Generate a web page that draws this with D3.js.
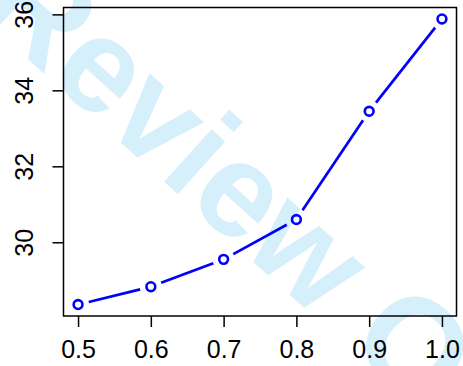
<!DOCTYPE html>
<html>
<head>
<meta charset="utf-8">
<script src="https://cdn.jsdelivr.net/npm/d3@7"></script>
<style>
  html, body { margin: 0; padding: 0; background: #fff; }
  svg { display: block; }
</style>
</head>
<body>
<div id="chart"></div>
<script>
// Data
const xValues = [0.5, 0.6, 0.7, 0.8, 0.9, 1.0];
const yValues = [28.36, 28.83, 29.55, 30.60, 33.45, 35.88];
const xTicks = [0.5, 0.6, 0.7, 0.8, 0.9, 1.0];
const yTicks = [30, 32, 34, 36];
const watermarkText = "Review Only";

const W = 463, H = 366;
const plot = { left: 63.5, right: 456.5, top: 7.5, bottom: 316 };

// R-style axis extents: data range padded by 4% each side
function padded(vals) {
  const [lo, hi] = d3.extent(vals);
  const p = (hi - lo) * 0.04;
  return [lo - p, hi + p];
}

const x = d3.scaleLinear().domain(padded(xValues)).range([plot.left, plot.right]);
const y = d3.scaleLinear().domain(padded(yValues)).range([plot.bottom, plot.top]);

const svg = d3.select("#chart").append("svg")
  .attr("width", W).attr("height", H);

// Background watermark
svg.append("text")
  .attr("transform", "translate(-25.5,11) rotate(42)")
  .attr("font-family", "'Liberation Sans', Arial, sans-serif")
  .attr("font-weight", "bold")
  .attr("font-size", 134)
  .attr("fill", "#d5effb")
  .text(watermarkText);

const font = "'Liberation Sans', Arial, Helvetica, sans-serif";

// Frame
svg.append("rect")
  .attr("x", plot.left).attr("y", plot.top)
  .attr("width", plot.right - plot.left)
  .attr("height", plot.bottom - plot.top)
  .attr("fill", "none").attr("stroke", "#000").attr("stroke-width", 1.5);

// X axis
const xAxis = d3.axisBottom(x).tickValues(xTicks)
  .tickFormat(d3.format(".1f")).tickSize(11).tickPadding(16);
const gx = svg.append("g").attr("transform", `translate(0,${plot.bottom})`).call(xAxis);
gx.select(".domain").remove();
gx.selectAll(".tick line").attr("stroke", "#000").attr("stroke-width", 1.5);
gx.selectAll(".tick text")
  .attr("font-family", font).attr("font-size", 25).attr("fill", "#000")
  .attr("dy", null).attr("y", 42);

// Y axis
const yAxis = d3.axisLeft(y).tickValues(yTicks).tickSize(11);
const gy = svg.append("g").attr("transform", `translate(${plot.left},0)`).call(yAxis);
gy.select(".domain").remove();
gy.selectAll(".tick line").attr("stroke", "#000").attr("stroke-width", 1.5);
gy.selectAll(".tick text")
  .attr("font-family", font).attr("font-size", 25).attr("fill", "#000")
  .attr("x", null).attr("dy", null)
  .attr("text-anchor", "middle")
  .attr("transform", "translate(-30.5,0) rotate(-90)");

// Series: segments between points with a gap around each marker
const pts = xValues.map((v, i) => [x(v), y(yValues[i])]);
const gap = 11;
const segs = d3.pairs(pts).map(([a, b]) => {
  const dx = b[0] - a[0], dy = b[1] - a[1];
  const len = Math.hypot(dx, dy);
  const ux = dx / len, uy = dy / len;
  return [a[0] + ux * gap, a[1] + uy * gap, b[0] - ux * gap, b[1] - uy * gap];
});

svg.append("g").selectAll("line").data(segs).join("line")
  .attr("x1", d => d[0]).attr("y1", d => d[1])
  .attr("x2", d => d[2]).attr("y2", d => d[3])
  .attr("stroke", "#0000ff").attr("stroke-width", 2.7);

svg.append("g").selectAll("circle").data(pts).join("circle")
  .attr("cx", d => d[0]).attr("cy", d => d[1]).attr("r", 4.4)
  .attr("fill", "none").attr("stroke", "#0000ff").attr("stroke-width", 2.6);
</script>
</body>
</html>
